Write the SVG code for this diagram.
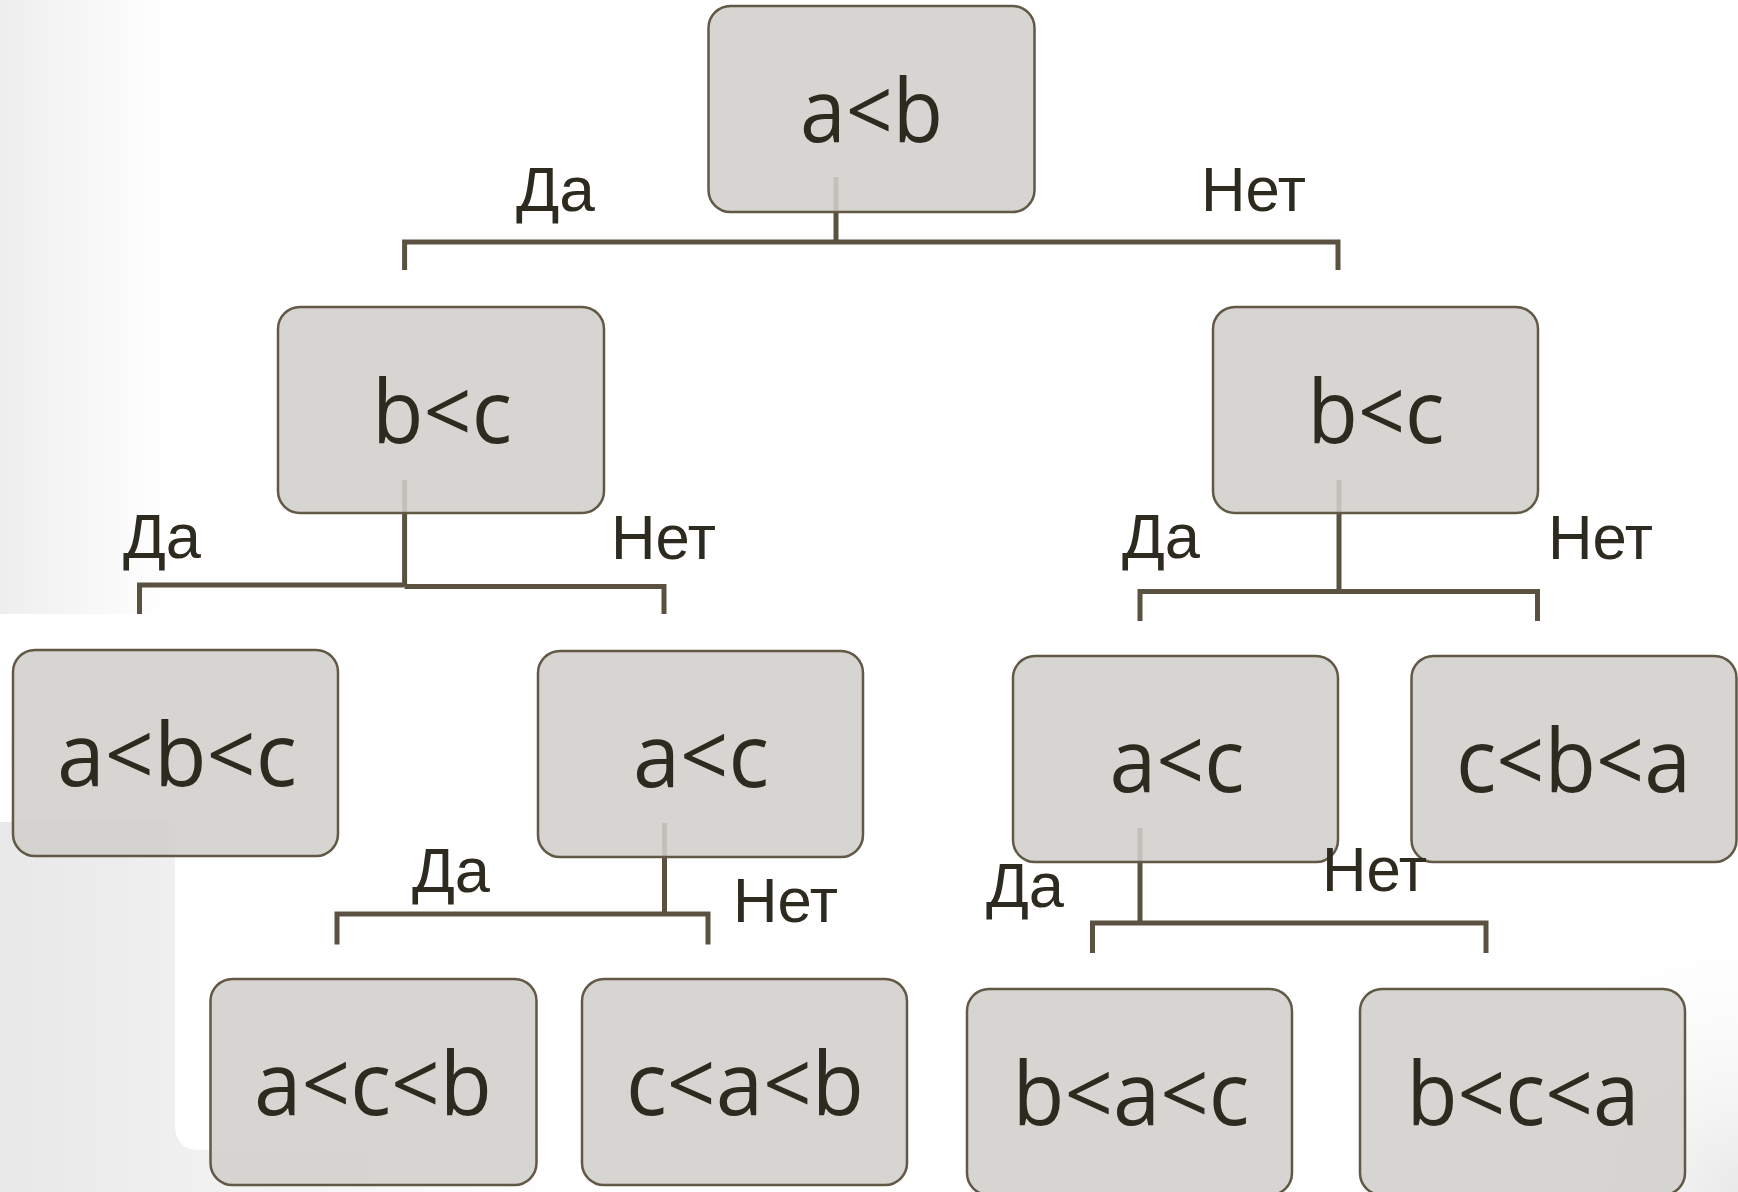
<svg xmlns="http://www.w3.org/2000/svg" width="1738" height="1192" viewBox="0 0 1738 1192">
  <defs>
    <linearGradient id="gTop" x1="0" y1="0" x2="1" y2="0">
      <stop offset="0" stop-color="#eeeeee"/>
      <stop offset="1" stop-color="#ffffff"/>
    </linearGradient>
    <linearGradient id="gLow" x1="0" y1="0" x2="1" y2="0">
      <stop offset="0" stop-color="#e8e8e8"/>
      <stop offset="0.5" stop-color="#f4f4f4"/>
      <stop offset="1" stop-color="#ffffff"/>
    </linearGradient>
    <radialGradient id="gRight" cx="1738" cy="1192" r="300" gradientUnits="userSpaceOnUse">
      <stop offset="0" stop-color="#e9e9e9" stop-opacity="1"/>
      <stop offset="1" stop-color="#ffffff" stop-opacity="0"/>
    </radialGradient>
    <style>
      .node rect { fill: #d0cfcb; fill-opacity: 0.88; stroke: #625846; stroke-width: 2.5; }
      .node text { font-family: "Open Sans", "Liberation Sans", sans-serif; font-size: 88px; fill: #2d2a1f; text-anchor: middle; }
      .conn path { fill: none; stroke: #5b5140; stroke-width: 5; stroke-linejoin: miter; stroke-linecap: butt; }
      .lbl text { font-family: "Liberation Sans", Arial, sans-serif; font-size: 63px; fill: #2d2a1f; }
    </style>
  </defs>

  <!-- background -->
  <rect x="0" y="0" width="1738" height="1192" fill="#ffffff"/>
  <rect x="0" y="0" width="170" height="614" fill="url(#gTop)"/>
  <rect x="0" y="822" width="560" height="370" fill="url(#gLow)"/>
  <rect x="1238" y="692" width="500" height="500" fill="url(#gRight)"/>
  <path d="M175,822 H600 V1150 H200 Q175,1150 175,1125 Z" fill="#ffffff"/>

  <!-- connectors -->
  <g id="connectors" class="conn">
    <path d="M836,177 V242"/>
    <path d="M404.6,270 V242 H1338 V270"/>
    <path d="M404.6,480 V586"/>
    <path d="M139.5,614 V585 H404.6"/>
    <path d="M404.6,586.5 H664 V614"/>
    <path d="M1339,480 V591.5"/>
    <path d="M1140,621 V591.5 H1537.5 V621"/>
    <path d="M664.5,823 V914"/>
    <path d="M337,944.5 V914 H708 V944.5"/>
    <path d="M1140,828 V923"/>
    <path d="M1092.5,953 V923 H1486 V953"/>
  </g>

  <!-- nodes -->
  <g id="n-root" class="node">
    <rect x="708.5" y="6" width="326" height="206" rx="22"/>
    <text x="871.5" y="142" textLength="143" lengthAdjust="spacingAndGlyphs">a&lt;b</text>
  </g>
  <g id="n-bc-left" class="node">
    <rect x="278" y="307" width="326" height="206" rx="22"/>
    <text x="442" y="443" textLength="140" lengthAdjust="spacingAndGlyphs">b&lt;c</text>
  </g>
  <g id="n-bc-right" class="node">
    <rect x="1213" y="307" width="325" height="206" rx="22"/>
    <text x="1376" y="443" textLength="137" lengthAdjust="spacingAndGlyphs">b&lt;c</text>
  </g>
  <g id="n-abc" class="node">
    <rect x="13" y="650" width="325" height="206" rx="22"/>
    <text x="177" y="786" textLength="240" lengthAdjust="spacingAndGlyphs">a&lt;b&lt;c</text>
  </g>
  <g id="n-ac-left" class="node">
    <rect x="538" y="651" width="325" height="206" rx="22"/>
    <text x="701" y="787" textLength="136" lengthAdjust="spacingAndGlyphs">a&lt;c</text>
  </g>
  <g id="n-ac-right" class="node">
    <rect x="1013" y="656" width="325" height="206" rx="22"/>
    <text x="1177" y="792" textLength="135" lengthAdjust="spacingAndGlyphs">a&lt;c</text>
  </g>
  <g id="n-cba" class="node">
    <rect x="1411.5" y="656" width="325" height="206" rx="22"/>
    <text x="1573.5" y="792" textLength="235" lengthAdjust="spacingAndGlyphs">c&lt;b&lt;a</text>
  </g>
  <g id="n-acb" class="node">
    <rect x="210.5" y="979" width="326" height="206" rx="22"/>
    <text x="373" y="1115" textLength="238" lengthAdjust="spacingAndGlyphs">a&lt;c&lt;b</text>
  </g>
  <g id="n-cab" class="node">
    <rect x="582" y="979" width="325" height="206" rx="22"/>
    <text x="745" y="1115" textLength="238" lengthAdjust="spacingAndGlyphs">c&lt;a&lt;b</text>
  </g>
  <g id="n-bac" class="node">
    <rect x="967" y="989" width="325" height="206" rx="22"/>
    <text x="1131" y="1125" textLength="237" lengthAdjust="spacingAndGlyphs">b&lt;a&lt;c</text>
  </g>
  <g id="n-bca" class="node">
    <rect x="1360" y="989" width="325" height="206" rx="22"/>
    <text x="1523" y="1125" textLength="233" lengthAdjust="spacingAndGlyphs">b&lt;c&lt;a</text>
  </g>

  <!-- edge labels -->
  <g id="labels" class="lbl">
    <text x="516" y="211" textLength="79" lengthAdjust="spacingAndGlyphs">Да</text>
    <text x="1201" y="211" textLength="105" lengthAdjust="spacingAndGlyphs">Нет</text>
    <text x="123" y="558" textLength="78" lengthAdjust="spacingAndGlyphs">Да</text>
    <text x="611" y="559" textLength="105" lengthAdjust="spacingAndGlyphs">Нет</text>
    <text x="1122" y="558" textLength="78" lengthAdjust="spacingAndGlyphs">Да</text>
    <text x="1548" y="559" textLength="105" lengthAdjust="spacingAndGlyphs">Нет</text>
    <text x="412" y="892" textLength="78" lengthAdjust="spacingAndGlyphs">Да</text>
    <text x="733" y="922" textLength="105" lengthAdjust="spacingAndGlyphs">Нет</text>
    <text x="986" y="907" textLength="78" lengthAdjust="spacingAndGlyphs">Да</text>
    <text x="1322" y="891" textLength="105" lengthAdjust="spacingAndGlyphs">Нет</text>
  </g>
</svg>
